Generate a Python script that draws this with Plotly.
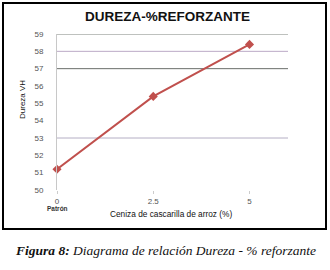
import plotly.graph_objects as go

x_vals = [0, 2.5, 5]
dureza = [51.2, 55.4, 58.4]
x_ticks = [0, 2.5, 5]
x_tick_labels = ["0", "2.5", "5"]
y_ticks = list(range(50, 60))
grid_levels = [59, 58, 57, 53]
grid_colors = ["#7f847f", "#bba9c6", "#6a6e6a", "#b4aec4"]

W, H = 330, 270
L, R, T, B = 57, 42, 34, 80
pw, ph = W - L - R, H - T - B

def px(xp):
    return (xp - L) / pw

def py(yp):
    return (H - B - yp) / ph

fig = go.Figure()
fig.add_trace(go.Scatter(
    x=x_vals, y=dureza, mode="lines+markers",
    line=dict(color="#c0504d", width=2),
    marker=dict(symbol="diamond", size=7, color="#c0504d"),
    showlegend=False, cliponaxis=False, hoverinfo="skip",
))

for lvl, col in zip(grid_levels, grid_colors):
    fig.add_shape(type="line", xref="x", yref="y", x0=0, x1=6, y0=lvl, y1=lvl,
                  line=dict(color=col, width=1), layer="below")

# outer frame
fig.add_shape(type="rect", xref="paper", yref="paper",
              x0=px(3), x1=px(326), y0=py(229), y1=py(3),
              line=dict(color="black", width=2))

common = dict(showarrow=False, xanchor="center", yanchor="middle")
fig.add_annotation(text="<b>DUREZA-%REFORZANTE</b>", xref="paper", yref="paper",
                   x=px(167), y=py(17), **common,
                   font=dict(family="Liberation Sans", size=13.5, color="#111"))
fig.add_annotation(text="<b>Patrón</b>", xref="x", yref="paper", x=0, y=py(208.5),
                   **common, font=dict(family="Liberation Sans", size=6.5, color="#333"))
fig.add_annotation(text="Ceniza de cascarilla de arroz (%)", xref="paper", yref="paper",
                   x=px(171), y=py(214), **common,
                   font=dict(family="Liberation Sans", size=8.3, color="#111"))
fig.add_annotation(text="Dureza VH", xref="paper", yref="paper", textangle=-90,
                   x=px(22), y=py(100), **common,
                   font=dict(family="Liberation Sans", size=8, color="#111"))
fig.add_annotation(text="<b>Figura 8:</b> Diagrama de relación Dureza - % reforzante",
                   xref="paper", yref="paper", x=px(165), y=py(250), **common,
                   font=dict(family="Liberation Serif", size=13.5, color="#111", style="italic"))

fig.update_layout(
    width=W, height=H, margin=dict(l=L, r=R, t=T, b=B),
    paper_bgcolor="white", plot_bgcolor="white",
    xaxis=dict(range=[0, 6], tickvals=x_ticks, ticktext=x_tick_labels,
               showgrid=False, zeroline=False, showline=False,
               ticks="outside", ticklen=3, tickcolor="#cccccc",
               tickfont=dict(family="Liberation Sans", size=8, color="#555")),
    yaxis=dict(range=[50, 59], tickvals=y_ticks, showgrid=False, zeroline=False,
               showline=True, linecolor="#c8c8c8", linewidth=1,
               ticklabelstandoff=11,
               tickfont=dict(family="Liberation Sans", size=8, color="#555")),
)

fig.write_html("out.html", config={"displayModeBar": False},
               post_script="document.body.style.margin='0';")
